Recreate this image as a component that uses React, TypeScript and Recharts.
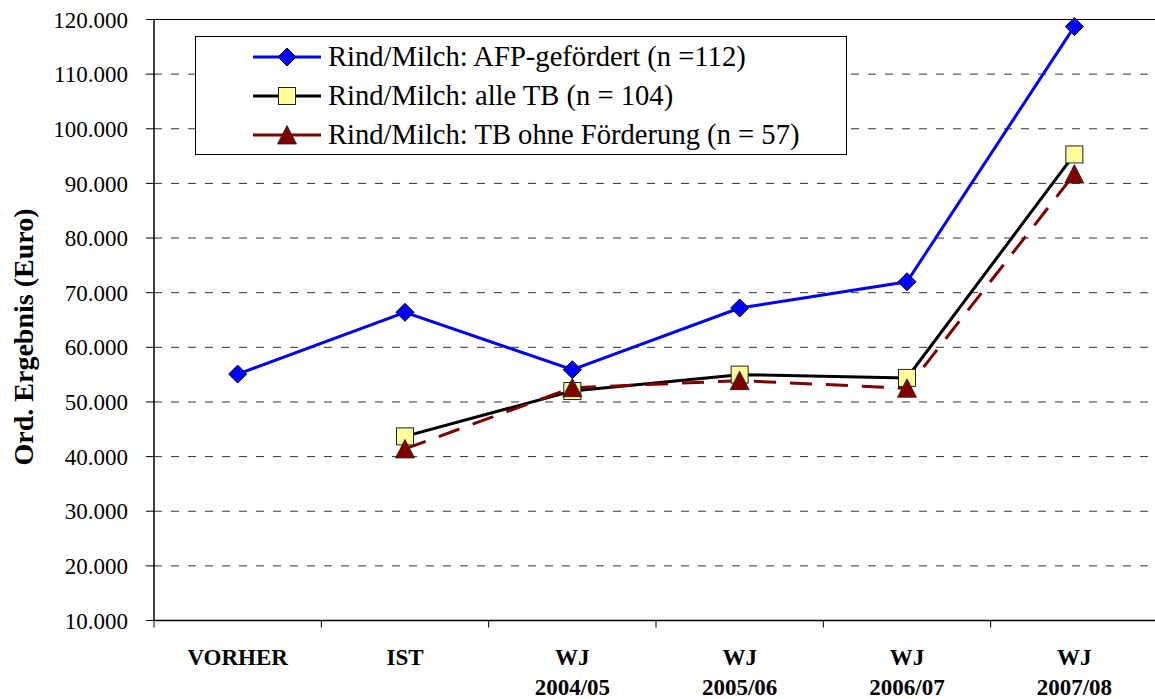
import { LineChart, Line, XAxis, YAxis, CartesianGrid, ReferenceLine, Legend } from 'recharts';

const categories = ['VORHER', 'IST', 'WJ 2004/05', 'WJ 2005/06', 'WJ 2006/07', 'WJ 2007/08'];
const afpGefoerdert = [55100, 66400, 55900, 67200, 72000, 118700];
const alleTB = [null, 43700, 52000, 55000, 54400, 95300];
const ohneFoerderung = [null, 41400, 52600, 53900, 52500, 91700];
const yTicks = [10000, 20000, 30000, 40000, 50000, 60000, 70000, 80000, 90000, 100000, 110000, 120000];
const boundaryTicks = [0, 1, 2, 3, 4, 5, 6];

const seriesNames = {
    afp: 'Rind/Milch: AFP-gefördert (n =112)',
    alle: 'Rind/Milch: alle TB (n = 104)',
    ohne: 'Rind/Milch: TB ohne Förderung (n = 57)',
};

const data = categories.map((label, i) => ({
    pos: i + 0.5,
    label,
    afp: afpGefoerdert[i],
    alle: alleTB[i],
    ohne: ohneFoerderung[i],
}));

const FONT = '"Liberation Serif", "Times New Roman", serif';
const BLUE = '#0000FF';
const DARKRED = '#800000';
const SQUARE_FILL = '#FFFF99';

const fmt = (v: number) => String(v).replace(/\B(?=(\d{3})+(?!\d))/g, '.');

function Diamond({ cx, cy }: { cx: number; cy: number }) {
    return <path d={`M${cx},${cy - 9}L${cx + 9},${cy}L${cx},${cy + 9}L${cx - 9},${cy}Z`} fill={BLUE} stroke="#000" strokeWidth={1} />;
}
function Square({ cx, cy }: { cx: number; cy: number }) {
    return <rect x={cx - 8.5} y={cy - 8.5} width={17} height={17} fill={SQUARE_FILL} stroke="#222" strokeWidth={1} />;
}
function Triangle({ cx, cy }: { cx: number; cy: number }) {
    return <path d={`M${cx},${cy - 9.5}L${cx + 9.5},${cy + 9}L${cx - 9.5},${cy + 9}Z`} fill={DARKRED} stroke="#222" strokeWidth={0.8} />;
}

const makeDot = (Shape: typeof Diamond, name: string) => (props: any) => {
    const { cx, cy, index } = props;
    if (cx == null || cy == null || props.value == null) return <g key={`${name}-${index}`} />;
    return (
        <g key={`${name}-${index}`}>
            <Shape cx={cx} cy={cy} />
        </g>
    );
};

function CategoryTick(props: any) {
    const { x, y, payload } = props;
    const idx = Math.floor(payload.value);
    const parts = (categories[idx] || '').split(' ');
    return (
        <text x={x} y={y} textAnchor="middle" fontFamily={FONT} fontWeight="bold" fontSize={23} fill="#000">
            {parts.map((p, k) => (
                <tspan key={k} x={x} dy={k === 0 ? 36 : 30}>{p}</tspan>
            ))}
        </text>
    );
}

function LegendBox() {
    const rows = [
        { name: seriesNames.afp, color: BLUE, Shape: Diamond },
        { name: seriesNames.alle, color: '#000', Shape: Square },
        { name: seriesNames.ohne, color: DARKRED, Shape: Triangle },
    ];
    return (
        <div style={{ width: 652, height: 119, boxSizing: 'border-box', border: '1px solid #000', background: '#fff', fontFamily: FONT, fontSize: 28.6, color: '#000' }}>
            {rows.map((r) => (
                <div key={r.name} style={{ height: 39.3, display: 'flex', alignItems: 'center', whiteSpace: 'nowrap' }}>
                    <svg width={70} height={30} style={{ marginLeft: 56, marginRight: 6, flex: 'none' }}>
                        <line x1={1} y1={15} x2={69} y2={15} stroke={r.color} strokeWidth={3} />
                        <r.Shape cx={35} cy={15} />
                    </svg>
                    <span style={{ lineHeight: '30px' }}>{r.name}</span>
                </div>
            ))}
        </div>
    );
}

export default function App() {
    return (
        <div style={{ position: 'absolute', left: 0, top: 0, width: 1155, height: 699, overflow: 'hidden', background: '#fff' }}>
            <LineChart width={1160} height={699} data={data} margin={{ top: 19.5, right: 2, bottom: 0, left: 0 }}>
                <CartesianGrid vertical={false} stroke="#333" strokeDasharray="8 9" />
                <ReferenceLine y={120000} stroke="#000" strokeWidth={1.2} />
                <XAxis
                    dataKey="pos"
                    type="number"
                    domain={[0, 6]}
                    ticks={boundaryTicks}
                    interval={0}
                    height={8}
                    tickSize={7}
                    tick={() => <g />}
                    axisLine={{ stroke: '#000', strokeWidth: 1.5 }}
                    tickLine={{ stroke: '#000', strokeWidth: 1 }}
                />
                <XAxis
                    xAxisId="labels"
                    dataKey="pos"
                    type="number"
                    domain={[0, 6]}
                    allowDataOverflow
                    ticks={data.map((d) => d.pos)}
                    interval={0}
                    height={70.5}
                    tickSize={0}
                    tickMargin={0}
                    axisLine={false}
                    tickLine={false}
                    tick={<CategoryTick />}
                />
                <YAxis
                    type="number"
                    domain={[10000, 120000]}
                    ticks={yTicks}
                    interval={0}
                    width={154}
                    tickSize={8}
                    tickMargin={18}
                    tickFormatter={fmt}
                    tick={{ fontFamily: FONT, fontSize: 23, fill: '#000' }}
                    axisLine={{ stroke: '#000', strokeWidth: 1.5 }}
                    tickLine={{ stroke: '#000', strokeWidth: 1 }}
                    label={{
                        value: 'Ord. Ergebnis (Euro)',
                        angle: -90,
                        position: 'center',
                        dx: -54,
                        dy: 17,
                        style: { fontFamily: FONT, fontSize: 28, fontWeight: 'bold', fill: '#000' },
                    }}
                />
                <Legend
                    layout="vertical"
                    align="center"
                    verticalAlign="middle"
                    content={() => <LegendBox />}
                    wrapperStyle={{ position: 'absolute', left: 195, top: 36, width: 652, height: 119 }}
                />
                <Line
                    name={seriesNames.alle}
                    dataKey="alle"
                    stroke="#000"
                    strokeWidth={3}
                    dot={makeDot(Square, 'alle')}
                    activeDot={false}
                    isAnimationActive={false}
                />
                <Line
                    name={seriesNames.ohne}
                    dataKey="ohne"
                    stroke={DARKRED}
                    strokeWidth={3}
                    strokeDasharray="22 14"
                    dot={makeDot(Triangle, 'ohne')}
                    activeDot={false}
                    isAnimationActive={false}
                />
                <Line
                    name={seriesNames.afp}
                    dataKey="afp"
                    stroke={BLUE}
                    strokeWidth={3}
                    dot={makeDot(Diamond, 'afp')}
                    activeDot={false}
                    isAnimationActive={false}
                />
            </LineChart>
        </div>
    );
}
